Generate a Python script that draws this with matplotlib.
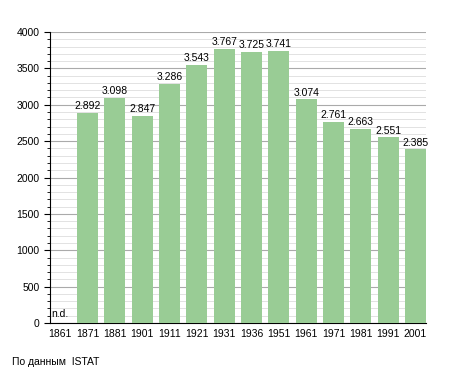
import numpy as np
import matplotlib.pyplot as plt
from matplotlib.ticker import MultipleLocator

plt.rcParams['font.family'] = ['Liberation Sans', 'DejaVu Sans']

# Dati del censimento
anni = ['1861', '1871', '1881', '1901', '1911', '1921', '1931',
        '1936', '1951', '1961', '1971', '1981', '1991', '2001']
abitanti = [None, 2892, 3098, 2847, 3286, 3543, 3767,
            3725, 3741, 3074, 2761, 2663, 2551, 2385]
fonte = 'По данным  ISTAT'

fig = plt.figure(figsize=(4.55, 3.73), dpi=100)
ax = fig.add_axes([50 / 455, 50 / 373, 376 / 455, 291 / 373])

x = np.arange(len(anni))
valori = [v if v is not None else 0 for v in abitanti]
ax.bar(x, valori, width=0.77, color='#99cc95', zorder=3)

for xi, v in zip(x, abitanti):
    if v is None:
        ax.text(xi - 0.33, 60, 'n.d.', fontsize=7.5, ha='left', va='bottom')
    else:
        testo = f'{v:,}'.replace(',', '.')
        ax.text(xi, v + 25, testo, fontsize=7.5, ha='center', va='bottom')

ax.set_xlim(-0.37, 13.385)
ax.set_ylim(0, 4000)
ax.set_xticks(x)
ax.set_xticklabels(anni)
ax.tick_params(axis='x', length=0, labelsize=7.5, pad=4)
ax.yaxis.set_major_locator(MultipleLocator(500))
ax.yaxis.set_minor_locator(MultipleLocator(100))
ax.tick_params(axis='y', which='major', length=4, labelsize=7.5)
ax.tick_params(axis='y', which='minor', length=2)

ax.grid(axis='y', which='major', color='#aaaaaa', linewidth=0.8, zorder=0)
ax.grid(axis='y', which='minor', color='#dddddd', linewidth=0.6, zorder=0)
ax.set_axisbelow(True)

for s in ['top', 'right']:
    ax.spines[s].set_visible(False)

fig.text(12 / 455, 1 - 362 / 373, fonte, fontsize=7.5, va='center', ha='left')

fig.savefig('out.png', dpi=100)
plt.close()
